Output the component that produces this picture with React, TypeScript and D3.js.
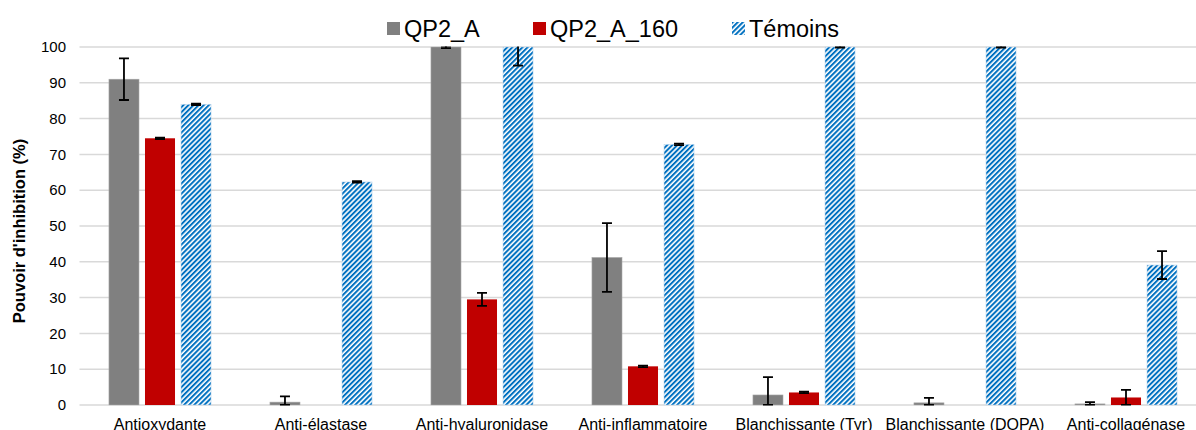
import React from 'react';
import * as d3 from 'd3';

const categories = [
  'Antioxydante',
  'Anti-élastase',
  'Anti-hyaluronidase',
  'Anti-inflammatoire',
  'Blanchissante (Tyr)',
  'Blanchissante (DOPA)',
  'Anti-collagénase',
];
const seriesNames = ['QP2_A', 'QP2_A_160', 'Témoins'];

// mean values (%)
const qp2a = [91, 0.8, 100, 41.2, 2.8, 0.6, 0.3];
const qp2a160 = [74.5, 0, 29.5, 10.8, 3.5, 0, 2.1];
const temoins = [84, 62.3, 100, 72.8, 100, 100, 39.1];
// standard deviations
const qp2aErr = [5.8, 1.6, 0.3, 9.6, 5, 1.4, 0.5];
const qp2a160Err = [0.2, 0, 1.8, 0.2, 0.2, 0, 2.1];
const temoinsErr = [0.2, 0.2, 5.2, 0.2, 0.2, 0.2, 3.9];

const yTicks = [0, 10, 20, 30, 40, 50, 60, 70, 80, 90, 100];

const W = 1196;
const H = 430;
const top = 47;
const bottom = 405;
const left = 79.5;
const right = 1206.5;

const App: React.FC = () => {
  const values = [qp2a, qp2a160, temoins];
  const errs = [qp2aErr, qp2a160Err, temoinsErr];

  const x0 = d3.scaleBand<string>()
    .domain(categories)
    .range([left, right])
    .paddingInner(0.366)
    .paddingOuter(0.183);
  const x1 = d3.scaleBand<string>()
    .domain(seriesNames)
    .range([0, x0.bandwidth()])
    .paddingInner(0.1667);
  const y = d3.scaleLinear().domain([0, 100]).range([bottom, top]);

  const fills = ['#808080', '#C00000', 'url(#hatch)'];
  const font = 'Arial, "Liberation Sans", sans-serif';

  return (
    <svg width={W} height={H} style={{ position: 'absolute', left: 0, top: 0, background: '#fff' }}>
      <defs>
        <pattern id="hatch" patternUnits="userSpaceOnUse" width={3.6} height={3.6} patternTransform="rotate(45)">
          <rect width={3.6} height={3.6} fill="#fff" />
          <rect width={2} height={3.6} fill="#0070C0" />
        </pattern>
        <clipPath id="plot">
          <rect x={0} y={top - 0.5} width={W} height={bottom - top + 1} />
        </clipPath>
      </defs>

      {/* gridlines */}
      {yTicks.map(t => (
        <line key={t} x1={left} x2={W} y1={y(t)} y2={y(t)} stroke="#D9D9D9" strokeWidth={1.5} />
      ))}

      {/* y tick labels */}
      {yTicks.map(t => (
        <text key={'t' + t} x={66} y={y(t)} dy="0.35em" textAnchor="end" fontSize={15} fontFamily={font} fill="#000">
          {t}
        </text>
      ))}

      <text
        transform={`translate(19,${231}) rotate(-90)`}
        textAnchor="middle"
        fontSize={16.5}
        fontWeight="bold"
        fontFamily={font}
        dy="0.35em"
      >
        Pouvoir d'inhibition (%)
      </text>

      {/* bars + error bars */}
      <g clipPath="url(#plot)">
        {categories.map((c, ci) => (
          <g key={c} transform={`translate(${x0(c)},0)`}>
            {seriesNames.map((s, si) => {
              const v = values[si][ci];
              const e = errs[si][ci];
              const bx = x1(s)!;
              const bw = x1.bandwidth();
              const cx = bx + bw / 2;
              return (
                <g key={s}>
                  {v > 0 && (
                    <rect
                      x={bx}
                      y={y(v)}
                      width={bw}
                      height={y(0) - y(v)}
                      fill={fills[si]}
                      stroke={si === 2 ? '#BDD7EE' : si === 0 ? '#A6A6A6' : 'none'}
                      strokeWidth={0.6}
                    />
                  )}
                  {v > 0 && e > 0 && (
                    <g stroke="#000" strokeWidth={1.8}>
                      <line x1={cx} x2={cx} y1={y(v + e)} y2={y(Math.max(0, v - e))} />
                      <line x1={cx - 5} x2={cx + 5} y1={y(v + e)} y2={y(v + e)} />
                      <line x1={cx - 5} x2={cx + 5} y1={y(Math.max(0, v - e))} y2={y(Math.max(0, v - e))} />
                    </g>
                  )}
                </g>
              );
            })}
          </g>
        ))}
      </g>

      {/* category labels */}
      {categories.map(c => (
        <text
          key={'c' + c}
          x={x0(c)! + x0.bandwidth() / 2}
          y={429.5}
          textAnchor="middle"
          fontSize={16}
          fontFamily={font}
        >
          {c}
        </text>
      ))}

      {/* legend */}
      {seriesNames.map((s, i) => {
        const lx = [387, 533, 732][i];
        return (
          <g key={'l' + s}>
            <rect x={lx} y={22} width={13} height={13} fill={fills[i]} />
            <text x={lx + 17} y={37} fontSize={23.5} fontFamily={font}>
              {s}
            </text>
          </g>
        );
      })}
    </svg>
  );
};

export default App;
